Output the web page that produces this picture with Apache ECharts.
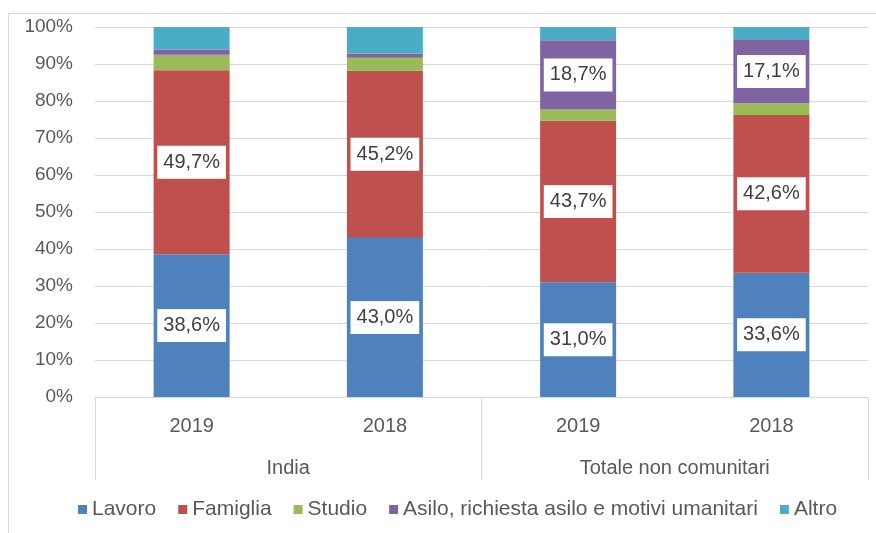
<!DOCTYPE html>
<html>
<head>
<meta charset="utf-8">
<script src="https://cdn.jsdelivr.net/npm/echarts@6/dist/echarts.min.js"></script>
<style>html,body{margin:0;padding:0;background:#fff}#c{width:876px;height:533px}</style>
</head>
<body>
<div id="c"></div>
<script>
const years = ['2019', '2018', '2019', '2018'];
const groups = ['India', 'Totale non comunitari'];
const yTicks = [0, 10, 20, 30, 40, 50, 60, 70, 80, 90, 100];
const lavoro = [38.6, 43.0, 31.0, 33.6];
const famiglia = [49.7, 45.2, 43.7, 42.6];
const studio = [4.2, 3.5, 3.0, 3.2];
const asilo = [1.4, 1.1, 18.7, 17.1];
const altro = [6.1, 7.2, 3.6, 3.5];
const seriesNames = ['Lavoro', 'Famiglia', 'Studio', 'Asilo, richiesta asilo e motivi umanitari', 'Altro'];
const colors = ['#4f81bd', '#c0504d', '#9bbb59', '#8064a2', '#4bacc6'];

const FONT = 'Liberation Sans';
const chart = echarts.init(document.getElementById('c'), null, {renderer: 'canvas'});

function mk(name, vals, color) {
  return {
    name: name,
    type: 'bar',
    stack: 'tot',
    barWidth: 76,
    itemStyle: {color: color},
    data: vals.map(v => ({
      value: v,
      label: {show: v >= 10}
    })),
    label: {
      position: 'inside',
      formatter: p => p.value.toFixed(1).replace('.', ',') + '%',
      backgroundColor: '#ffffff',
      padding: [7, 6, 6, 6],
      color: '#404040',
      fontSize: 20,
      fontFamily: FONT
    },
    emphasis: {disabled: true}
  };
}

chart.setOption({
  animation: false,
  color: colors,
  grid: {left: 95, right: 8, top: 27, bottom: 136},
  graphic: [{
    type: 'rect',
    shape: {x: 8.5, y: 13.5, width: 1000, height: 1000},
    style: {fill: 'none', stroke: '#d9d9d9', lineWidth: 1},
    silent: true, z: -1
  }],
  legend: {
    left: 73, top: 494,
    icon: 'rect', itemWidth: 9, itemHeight: 9, itemGap: 22,
    textStyle: {fontSize: 21, color: '#595959', fontFamily: FONT},
    data: seriesNames
  },
  xAxis: [{
    type: 'category',
    data: years,
    axisLine: {lineStyle: {color: '#d9d9d9'}},
    axisTick: {show: false},
    axisLabel: {fontSize: 20, color: '#595959', fontFamily: FONT, margin: 19}
  }, {
    type: 'category',
    data: groups,
    position: 'bottom',
    axisLine: {show: true, lineStyle: {color: '#d9d9d9'}},
    axisTick: {show: true, length: 83, interval: 0, lineStyle: {color: '#d9d9d9'}},
    axisLabel: {fontSize: 20, color: '#595959', fontFamily: FONT, margin: 61, interval: 0}
  }],
  yAxis: {
    type: 'value',
    min: yTicks[0], max: yTicks[yTicks.length - 1], interval: 10,
    axisLine: {show: false},
    axisTick: {show: false},
    splitLine: {lineStyle: {color: '#d9d9d9'}},
    axisLabel: {fontSize: 19, color: '#595959', fontFamily: FONT, margin: 22, formatter: '{value}%'}
  },
  series: [
    mk(seriesNames[0], lavoro, colors[0]),
    mk(seriesNames[1], famiglia, colors[1]),
    mk(seriesNames[2], studio, colors[2]),
    mk(seriesNames[3], asilo, colors[3]),
    mk(seriesNames[4], altro, colors[4])
  ]
});
</script>
</body>
</html>
